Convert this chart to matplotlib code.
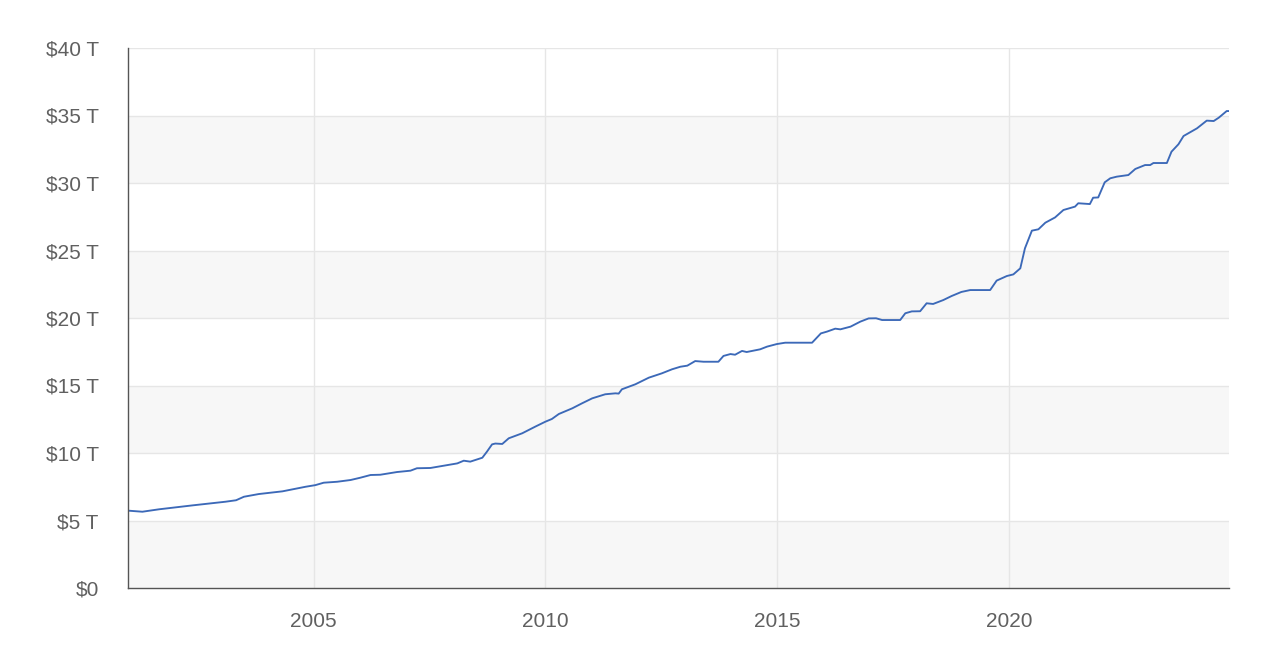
import matplotlib
matplotlib.use("Agg")
import matplotlib.pyplot as plt
from matplotlib.ticker import FuncFormatter

# Decimal year and total debt (trillions of dollars)
years = [2001.00, 2001.31, 2001.67, 2002.39, 2003.10, 2003.33, 2003.50, 2003.82, 2004.33, 2004.83,
         2005.04, 2005.22, 2005.51, 2005.80, 2006.01, 2006.23, 2006.44, 2006.80, 2007.09, 2007.23,
         2007.52, 2007.81, 2008.10, 2008.24, 2008.38, 2008.64, 2008.74, 2008.85, 2008.92, 2009.07,
         2009.21, 2009.50, 2009.78, 2010.00, 2010.14, 2010.29, 2010.58, 2010.79, 2011.01, 2011.29,
         2011.51, 2011.58, 2011.65, 2011.94, 2012.23, 2012.51, 2012.73, 2012.91, 2013.06, 2013.23,
         2013.41, 2013.73, 2013.84, 2013.99, 2014.09, 2014.24, 2014.34, 2014.63, 2014.78, 2014.99,
         2015.17, 2015.75, 2015.94, 2016.07, 2016.25, 2016.36, 2016.58, 2016.79, 2016.97, 2017.13,
         2017.26, 2017.65, 2017.76, 2017.90, 2018.08, 2018.22, 2018.36, 2018.58, 2018.76, 2018.97,
         2019.16, 2019.59, 2019.73, 2019.95, 2020.09, 2020.24, 2020.34, 2020.49, 2020.63, 2020.78,
         2020.99, 2021.17, 2021.42, 2021.49, 2021.74, 2021.81, 2021.92, 2022.06, 2022.18, 2022.32,
         2022.57, 2022.72, 2022.93, 2023.04, 2023.11, 2023.40, 2023.50, 2023.65, 2023.76, 2024.05,
         2024.26, 2024.41, 2024.52, 2024.69, 2024.74]
debt = [5.73, 5.65, 5.83, 6.12, 6.39, 6.50, 6.76, 6.96, 7.16, 7.50,
        7.62, 7.80, 7.87, 8.00, 8.17, 8.37, 8.39, 8.59, 8.69, 8.87,
        8.89, 9.06, 9.23, 9.43, 9.36, 9.65, 10.10, 10.64, 10.70, 10.67,
        11.09, 11.46, 11.95, 12.32, 12.52, 12.89, 13.31, 13.68, 14.05, 14.35,
        14.42, 14.40, 14.72, 15.09, 15.58, 15.90, 16.20, 16.39, 16.47, 16.81,
        16.76, 16.76, 17.19, 17.33, 17.28, 17.56, 17.48, 17.68, 17.88, 18.07,
        18.17, 18.17, 18.86, 18.99, 19.21, 19.16, 19.36, 19.73, 19.97, 19.98,
        19.85, 19.85, 20.35, 20.49, 20.50, 21.09, 21.04, 21.33, 21.63, 21.93,
        22.07, 22.07, 22.77, 23.11, 23.23, 23.68, 25.16, 26.47, 26.57, 27.06,
        27.45, 28.00, 28.25, 28.50, 28.44, 28.91, 28.93, 30.05, 30.35, 30.47,
        30.59, 31.04, 31.33, 31.33, 31.48, 31.48, 32.32, 32.87, 33.48, 34.05,
        34.62, 34.59, 34.84, 35.33, 35.33]

x_ticks = [2005, 2010, 2015, 2020]
y_ticks = [0, 5, 10, 15, 20, 25, 30, 35, 40]

plt.rcParams['font.family'] = ['Liberation Sans', 'DejaVu Sans']

fig = plt.figure(figsize=(12.82, 6.61), dpi=100)
ax = fig.add_axes([128/1282, 1 - 588/661, (1229-128)/1282, (588-48)/661])

# alternating bands
for i in range(len(y_ticks) - 1):
    if i % 2 == 0:
        ax.axhspan(y_ticks[i], y_ticks[i+1], color='#f7f7f7', zorder=0, lw=0)

for yt in y_ticks[1:]:
    ax.axhline(yt, color='#e6e6e6', lw=1.0, zorder=1)
for xt in x_ticks:
    ax.axvline(xt, color='#e6e6e6', lw=1.0, zorder=1)

ax.plot(years, debt, color='#3c69b8', lw=1.35, zorder=3)

ax.set_xlim(2001.0, 2024.74)
ax.set_ylim(0, 40)
ax.set_xticks(x_ticks)
ax.set_yticks(y_ticks)
ax.yaxis.set_major_formatter(FuncFormatter(lambda v, p: '$0' if v == 0 else f'${int(v)} T'))
ax.xaxis.set_major_formatter(FuncFormatter(lambda v, p: f'{int(v)}'))
ax.tick_params(axis='both', length=0, labelsize=15, labelcolor='#606060')
ax.tick_params(axis='y', pad=21)
ax.tick_params(axis='x', pad=17)

for s in ['top', 'right']:
    ax.spines[s].set_visible(False)
for s in ['left', 'bottom']:
    ax.spines[s].set_color('#555555')
    ax.spines[s].set_linewidth(1.0)
    ax.spines[s].set_zorder(4)

fig.savefig('out.png', dpi=100, facecolor='white')
